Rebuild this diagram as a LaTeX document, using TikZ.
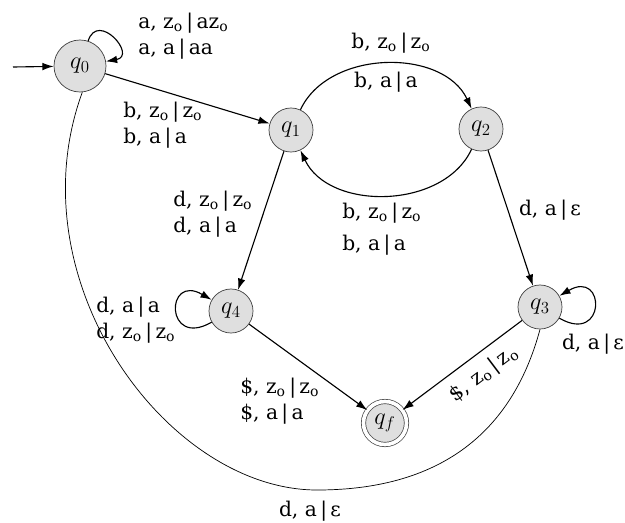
\documentclass[tikz,border=0pt]{standalone}
\usepackage{fontspec}
\setmainfont{DejaVu Serif}
\usetikzlibrary{arrows.meta}
\newcommand{\zz}{z\textsubscript{o}}
\newcommand{\vb}{\,|\,}
\begin{document}
\begin{tikzpicture}[x=0.025cm,y=0.025cm,font=\Large,
  state/.style={circle,draw=black!75,fill=gray!25,line width=0.5pt,minimum size=1.1cm,inner sep=0pt,font=\LARGE},
  finalstate/.style={double,double distance=2.6pt,minimum size=1.075cm},
  edge/.style={-{Latex[length=2.8mm,width=1.9mm]},line width=0.8pt},
  lbl/.style={align=left,inner sep=0pt}]
  \useasboundingbox (0,0) rectangle (625,522);
  \node[state,minimum size=1.3cm] (q0) at (80,456) {$q_0$};
  \node[state] (q1) at (291,392) {$q_1$};
  \node[state] (q2) at (481,393) {$q_2$};
  \node[state] (q3) at (540,215) {$q_3$};
  \node[state] (q4) at (231,211) {$q_4$};
  \node[state,finalstate] (qf) at (385,99) {$q_f$};
  \coordinate (start) at (13,455);
  \coordinate (low) at (317,32);
  \draw[edge] (start) -- (q0);
  \draw[edge] (q0) to[out=72,in=10,distance=0.8cm] (q0);
  \draw[edge] (q0) -- (q1);
  \draw[edge] (q1) to[out=65,in=115] (q2);
  \draw[edge] (q2) to[out=245,in=295] (q1);
  \draw[edge] (q1) -- (q4);
  \draw[edge] (q2) -- (q3);
  \draw[edge] (q4) to[out=210,in=150,distance=1.35cm] (q4);
  \draw[edge] (q3) to[out=-30,in=30,distance=1.35cm] (q3);
  \draw[edge] (q4) -- (qf);
  \draw[edge] (q3) -- (qf);
  \draw[line width=0.5pt] (q0.275) .. controls (13.6,242) and (167,32) .. (low)
    .. controls (447,32) and (514,96) .. (q3.south);
  \node[lbl,anchor=west] (l00) at (138,486) {a, \zz\vb a\zz\\ a, a\vb aa};
  \node[lbl,anchor=west] (l01) at (123,397) {b, \zz\vb\zz\\ b, a\vb a};
  \node[lbl] (l12a) at (391,479) {b, \zz\vb\zz};
  \node[lbl] (l12b) at (386,440) {b, a\vb a};
  \node[lbl,anchor=west] (l21) at (342,293) {b, \zz\vb\zz\\[5pt] b, a\vb a};
  \node[lbl,anchor=west] (l14) at (173,308) {d, \zz\vb\zz\\ d, a\vb a};
  \node[lbl,anchor=west] (l44) at (96,202) {d, a\vb a\\ d, \zz\vb\zz};
  \node[lbl] (l23) at (550,312) {d, a\vb ε};
  \node[lbl] (l33) at (593,178) {d, a\vb ε};
  \node[lbl,anchor=west] (l4f) at (240,121) {\$, \zz\vb\zz\\ \$, a\vb a};
  \node[lbl,rotate=37] (l3f) at (484,148) {\$, \zz\vb\zz};
  \node[lbl] (l03) at (310,11) {d, a\vb ε};
\end{tikzpicture}
\end{document}
